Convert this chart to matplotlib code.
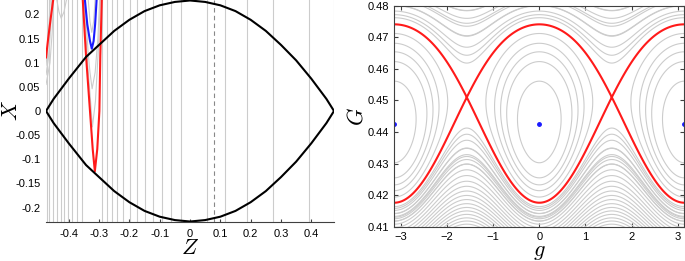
import numpy as np
import matplotlib.pyplot as plt

plt.rcParams['font.family'] = ['Liberation Sans', 'DejaVu Sans']
plt.rcParams['mathtext.fontset'] = 'cm'

# ---------------- left panel (Z, X) ----------------
lens_z = [-0.475, -0.45, -0.4, -0.343, -0.3, -0.25, -0.2, -0.15, -0.1, -0.05, 0.0,
          0.05, 0.1, 0.15, 0.2, 0.25, 0.3, 0.35, 0.4, 0.45, 0.475]
lens_x = [0.0, 0.025, 0.067, 0.112, 0.137, 0.166, 0.189, 0.207, 0.219, 0.226, 0.229,
          0.226, 0.219, 0.207, 0.189, 0.166, 0.137, 0.105, 0.067, 0.025, 0.0]

# grey level lines that stay vertical
vlines_z = [-0.473, -0.464, -0.451, -0.440, -0.427, -0.416, -0.402, -0.388, -0.374,
            -0.357, -0.291, -0.275, -0.258, -0.240, -0.220, -0.198, -0.174, -0.149,
            -0.121, -0.093, -0.064, -0.030, 0.057, 0.115, 0.187, 0.273, 0.394, 0.475]
dashed_z = 0.079

# grey U-shaped lines (z, x)
u_lines = [
    ([-0.336, -0.330, -0.324, -0.318, -0.313], [0.232, 0.185, 0.163, 0.185, 0.232]),
    ([-0.347, -0.336, -0.330, -0.323, -0.313, -0.304, -0.298], [0.232, 0.12, 0.08, 0.046, 0.08, 0.15, 0.232]),
    ([-0.350, -0.338, -0.328, -0.322, -0.312, -0.303, -0.296], [0.232, 0.10, 0.02, -0.033, 0.02, 0.12, 0.232]),
    ([-0.440, -0.432, -0.425, -0.416, -0.407], [0.232, 0.205, 0.192, 0.205, 0.232]),
    ([-0.475, -0.470, -0.465, -0.461], [0.095, 0.13, 0.18, 0.232]),
    ([-0.475, -0.467, -0.460, -0.456], [0.075, 0.11, 0.17, 0.232]),
    ([-0.475, -0.462, -0.455, -0.450], [0.055, 0.10, 0.16, 0.232]),
]

red1_z = [-0.475, -0.468, -0.460, -0.451]
red1_x = [0.111, 0.150, 0.190, 0.232]
redv_z = [-0.354, -0.343, -0.330, -0.321, -0.314, -0.306, -0.299, -0.296, -0.291]
redv_x = [0.232, 0.114, 0.0, -0.079, -0.125, -0.079, 0.0, 0.114, 0.232]
blue_z = [-0.347, -0.339, -0.330, -0.324, -0.318, -0.313, -0.308]
blue_x = [0.232, 0.180, 0.145, 0.129, 0.145, 0.180, 0.232]

# ---------------- right panel (g, G) ----------------
G_center = 0.4425      # elliptic points
G_xpoint = 0.451       # hyperbolic points at g = +-pi/2
G_sep_top = 0.4741     # separatrix at g = 0
G_sep_bot = 0.4176
# grey contour crossings read at g = 0
cross_g0 = [0.4561, 0.4623, 0.4654, 0.4681, 0.4712, 0.4762, 0.4783,
            0.4158, 0.4142, 0.4130, 0.4118, 0.4108]
# grey contour crossings read at g = pi/2 (lines leaving the frame at g = 0)
cross_g90 = [0.4705, 0.4735, 0.4760, 0.4785,
             0.4262, 0.4244, 0.4228, 0.4213, 0.4199, 0.4186, 0.4173, 0.4161,
             0.4150, 0.4139, 0.4128, 0.4118, 0.4108]
g_ticks = [-3, -2, -1, 0, 1, 2, 3]
G_ticks = [0.41, 0.42, 0.43, 0.44, 0.45, 0.46, 0.47, 0.48]

# pendulum-like field fitted to the read points
ut, ub, ux = G_sep_top - G_center, G_sep_bot - G_center, G_xpoint - G_center
beta = (ub**2 - ut**2) / (ut**3 - ub**3)
Hx = ut**2 + beta * ut**3
h1 = (2 * ux + 3 * beta * ux**2) / 2
h0 = (ux**2 + beta * ux**3 - 2 * h1 * ux - Hx) / 2


def H(g, G):
    u = G - G_center
    return u**2 + beta * u**3 + (h0 + h1 * u) * (np.cos(2 * g) - 1)


levels = sorted(set(np.round(H(0.0, np.array(cross_g0)), 10))
                | set(np.round(H(np.pi / 2, np.array(cross_g90)), 10)))

fig = plt.figure(figsize=(6.85, 2.61), dpi=100)
grey = '#cccccc'

ax1 = fig.add_axes([0.0672, 0.1494, 0.4204, 0.8506])
ax1.vlines(vlines_z, -0.25, 0.25, color=grey, lw=0.8)
ax1.axvline(dashed_z, color='#888888', lw=0.8, ls=(0, (4, 3)))
for zz, xx in u_lines:
    ax1.plot(zz, xx, color=grey, lw=0.8)
ax1.plot(red1_z, red1_x, color='#ff1a1a', lw=1.5)
ax1.plot(redv_z, redv_x, color='#ff1a1a', lw=1.5)
ax1.plot(blue_z, blue_x, color='#1a1aff', lw=1.5)
ax1.plot(lens_z, lens_x, color='black', lw=1.5)
ax1.plot(lens_z, -np.array(lens_x), color='black', lw=1.5)
ax1.set_xlim(-0.475, 0.475)
ax1.set_ylim(-0.23, 0.23)
ax1.set_xticks([-0.4, -0.3, -0.2, -0.1, 0, 0.1, 0.2, 0.3, 0.4])
ax1.set_xticklabels(['-0.4', '-0.3', '-0.2', '-0.1', '0', '0.1', '0.2', '0.3', '0.4'])
ax1.set_yticks([-0.2, -0.15, -0.1, -0.05, 0, 0.05, 0.1, 0.15, 0.2])
ax1.set_yticklabels(['-0.2', '-0.15', '-0.1', '-0.05', '0', '0.05', '0.1', '0.15', '0.2'])
for s in ['top', 'right', 'left']:
    ax1.spines[s].set_visible(False)
ax1.spines['bottom'].set_color('#404040')
ax1.tick_params(axis='x', direction='in', length=2, labelsize=8, color='#404040', pad=5)
ax1.tick_params(axis='y', length=0, labelsize=8, pad=4)
ax1.set_xlabel('$Z$', fontsize=16, va='center')
ax1.xaxis.set_label_coords(0.5, -0.12)
ax1.set_ylabel('$X$', fontsize=16, va='center')
ax1.yaxis.set_label_coords(-0.12, 0.5)

ax2 = fig.add_axes([0.5756, 0.1314, 0.4234, 0.8467])
gg = np.linspace(-np.pi, np.pi, 801)
GG = np.linspace(0.405, 0.485, 801)
Gm, Gv = np.meshgrid(gg, GG)
Z = H(Gm, Gv)
ax2.contour(Gm, Gv, Z, levels=levels, colors=grey, linewidths=0.8)
ax2.contour(Gm, Gv, Z, levels=[Hx], colors='#ff1a1a', linewidths=1.5)
ax2.plot([-np.pi, 0, np.pi], [G_center] * 3, 'o', color='#1a1aff', ms=2.5)
ax2.set_xlim(-np.pi, np.pi)
ax2.set_ylim(0.41, 0.48)
ax2.set_xticks(g_ticks)
ax2.set_yticks(G_ticks)
ax2.set_yticklabels(['%.2f' % v for v in G_ticks])
for s in ax2.spines.values():
    s.set_color('#404040')
ax2.tick_params(direction='in', length=3, labelsize=8, color='#404040',
                top=True, right=True)
ax2.set_xlabel('$g$', fontsize=16, va='center')
ax2.xaxis.set_label_coords(0.5, -0.11)
ax2.set_ylabel('$G$', fontsize=16, va='center')
ax2.yaxis.set_label_coords(-0.129, 0.5)

fig.savefig('out.png', dpi=100)
